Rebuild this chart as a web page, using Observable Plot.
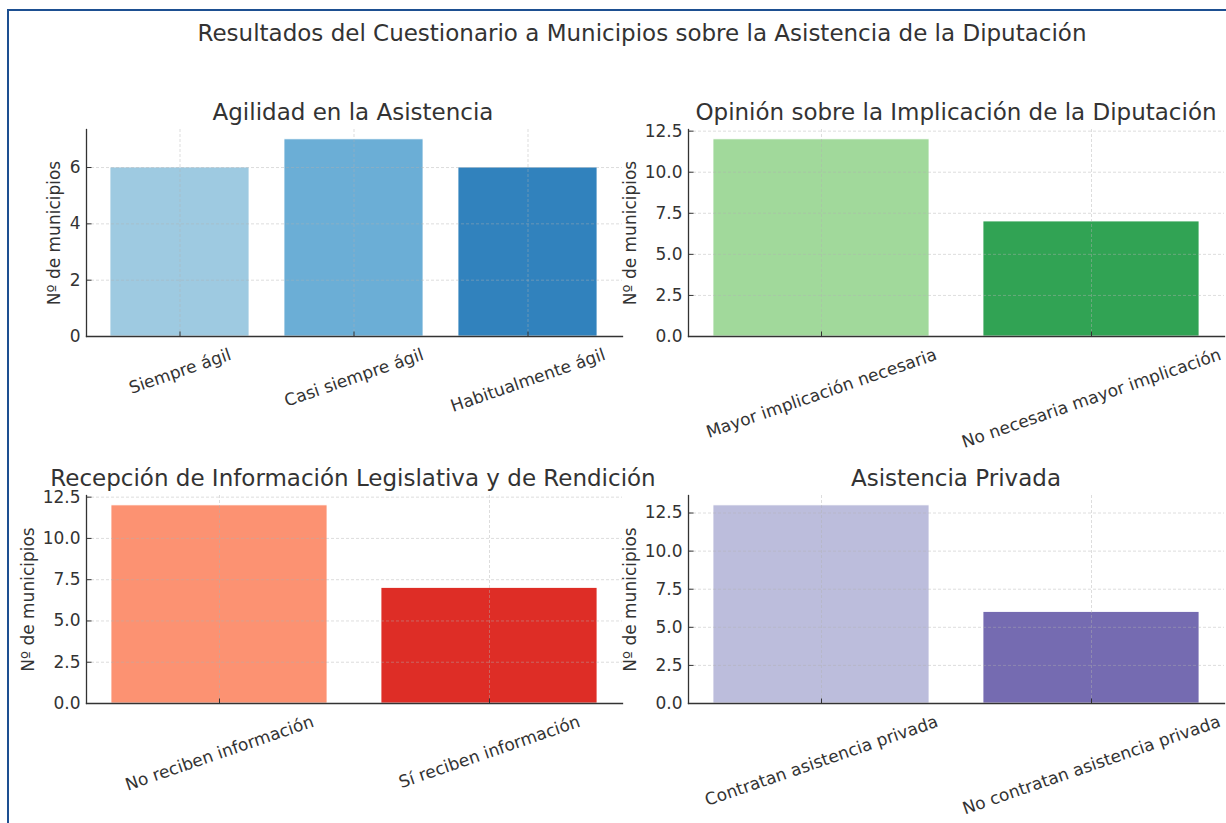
<!DOCTYPE html>
<html><head><meta charset="utf-8">
<script src="https://cdn.jsdelivr.net/npm/d3@7"></script>
<script src="https://cdn.jsdelivr.net/npm/@observablehq/plot@0.6"></script>
<style>
html,body{margin:0;padding:0;background:#fff;}
#root{position:relative;width:1226px;height:823px;overflow:hidden;background:#fff;font-family:"DejaVu Sans",sans-serif;color:#333;}
#border{position:absolute;left:7px;top:9px;right:-10px;bottom:-10px;border-left:2px solid #1d4f91;border-top:2px solid #1d4f91;}
.title{position:absolute;font-size:23px;line-height:26px;white-space:nowrap;transform:translateX(-50%);color:#333;}
.panel{position:absolute;}
</style></head><body><div id="root"><div id="border"></div></div>
<script>
// ---- data ----
const mainTitle = "Resultados del Cuestionario a Municipios sobre la Asistencia de la Diputación";
const yLabel = "Nº de municipios";

const agilidadTitle = "Agilidad en la Asistencia";
const agilidadCats = ["Siempre ágil", "Casi siempre ágil", "Habitualmente ágil"];
const agilidadVals = [6, 7, 6];
const agilidadColors = ["#9ecae1", "#6baed6", "#3182bd"];

const opinionTitle = "Opinión sobre la Implicación de la Diputación";
const opinionCats = ["Mayor implicación necesaria", "No necesaria mayor implicación"];
const opinionVals = [12, 7];
const opinionColors = ["#a1d99b", "#31a354"];

const recepcionTitle = "Recepción de Información Legislativa y de Rendición";
const recepcionCats = ["No reciben información", "Sí reciben información"];
const recepcionVals = [12, 7];
const recepcionColors = ["#fc9272", "#de2d26"];

const privadaTitle = "Asistencia Privada";
const privadaCats = ["Contratan asistencia privada", "No contratan asistencia privada"];
const privadaVals = [13, 6];
const privadaColors = ["#bcbddc", "#756bb1"];

const ticksInt = [0, 2, 4, 6];
const ticksHalf = [0, 2.5, 5, 7.5, 10, 12.5];

// ---- rendering ----
const root = document.getElementById("root");
const FS = 17;
const ROT = 19;
const ctx = document.createElement("canvas").getContext("2d");
ctx.font = FS + "px 'DejaVu Sans'";
const theta = ROT * Math.PI / 180;
function labelDy(s) {
  const w = ctx.measureText(s).width;
  return 10 + (w * Math.sin(theta) + 16 * Math.cos(theta)) / 2;
}

// inward tick symbols (stroke only)
const hTick = {draw(c) { c.moveTo(0, 0); c.lineTo(5, 0); }};
const vTick = {draw(c) { c.moveTo(0, 0); c.lineTo(0, -5); }};

function addTitle(text, cx, top) {
  const d = document.createElement("div");
  d.className = "title";
  d.textContent = text;
  d.style.left = cx + "px";
  d.style.top = top + "px";
  root.appendChild(d);
}

function panel({title, cats, vals, colors, ticks, fmt, left, top, width, height, mL, mR, mT, mB, labelOffset, titleCx, titleTop}) {
  const data = cats.map((c, i) => ({cat: c, value: vals[i], color: colors[i]}));
  const n = cats.length;
  const gridStyle = {stroke: "#b0b0b0", strokeOpacity: 0.55, strokeDasharray: "3,2", strokeWidth: 0.8};
  const spine = {stroke: "#333", strokeWidth: 1.3};
  const plot = Plot.plot({
    width, height,
    marginLeft: mL, marginRight: mR, marginTop: mT, marginBottom: mB,
    style: {background: "transparent", overflow: "visible", fontFamily: "'DejaVu Sans'", fontSize: FS + "px", color: "#333"},
    x: {domain: cats, paddingInner: 0.2, paddingOuter: n === 3 ? 0.14 : 0.09, label: null},
    y: {domain: [0, d3.max(vals) * 1.05], label: null},
    color: {type: "identity"},
    marks: [
      Plot.barY(data, {x: "cat", y: "value", fill: "color", stroke: "white", strokeWidth: 0.8}),
      Plot.gridY(ticks, gridStyle),
      Plot.gridX(cats, gridStyle),
      Plot.axisY(ticks, {tickFormat: fmt, tickSize: 0, tickPadding: 6, fontSize: FS,
        label: yLabel, labelAnchor: "center", labelArrow: "none", labelOffset}),
      Plot.axisX(cats, {tickSize: 0, tickFormat: () => "", label: null}),
      Plot.dot(ticks, {y: d => d, frameAnchor: "left", symbol: hTick, fill: "none", stroke: "#333", strokeWidth: 1}),
      Plot.dot(cats, {x: d => d, frameAnchor: "bottom", symbol: vTick, fill: "none", stroke: "#333", strokeWidth: 1}),
      Plot.frame({anchor: "left", ...spine}),
      Plot.frame({anchor: "bottom", ...spine}),
      ...cats.map(c => Plot.text([c], {x: d => d, text: d => d, frameAnchor: "bottom", rotate: -ROT,
        textAnchor: "middle", lineAnchor: "middle", dy: labelDy(c), fontSize: FS, fill: "#333"}))
    ]
  });
  const wrap = document.createElement("div");
  wrap.className = "panel";
  wrap.style.left = left + "px";
  wrap.style.top = top + "px";
  wrap.appendChild(plot);
  root.appendChild(wrap);
  addTitle(title, titleCx, titleTop);
}

addTitle(mainTitle, 642, 20);

panel({title: agilidadTitle, cats: agilidadCats, vals: agilidadVals, colors: agilidadColors, ticks: ticksInt, fmt: d3.format("d"),
  left: 0, top: 100, width: 626, height: 360, mL: 86, mR: 4, mT: 29, mB: 124, labelOffset: 39, titleCx: 353, titleTop: 99});
panel({title: opinionTitle, cats: opinionCats, vals: opinionVals, colors: opinionColors, ticks: ticksHalf, fmt: d3.format(".1f"),
  left: 600, top: 100, width: 626, height: 360, mL: 88, mR: 2, mT: 29, mB: 124, labelOffset: 65, titleCx: 956, titleTop: 99});
panel({title: recepcionTitle, cats: recepcionCats, vals: recepcionVals, colors: recepcionColors, ticks: ticksHalf, fmt: d3.format(".1f"),
  left: 0, top: 467, width: 626, height: 356, mL: 86, mR: 4, mT: 28, mB: 120, labelOffset: 65, titleCx: 353, titleTop: 465});
panel({title: privadaTitle, cats: privadaCats, vals: privadaVals, colors: privadaColors, ticks: ticksHalf, fmt: d3.format(".1f"),
  left: 600, top: 467, width: 626, height: 356, mL: 88, mR: 2, mT: 28, mB: 120, labelOffset: 65, titleCx: 956, titleTop: 465});
</script>
</body></html>
